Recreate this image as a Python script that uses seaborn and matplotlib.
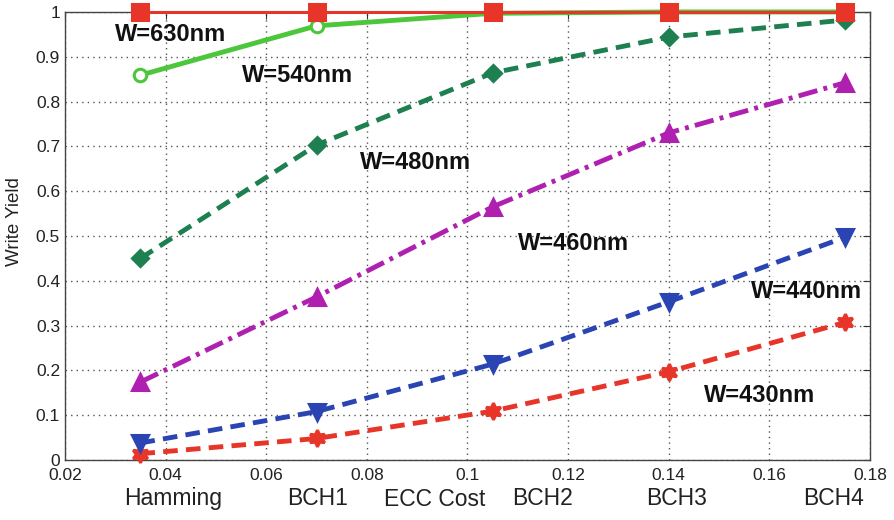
import matplotlib
matplotlib.use("Agg")
import matplotlib.pyplot as plt
import seaborn as sns
import numpy as np

# ---- data ----
ecc_cost = [0.035, 0.07, 0.105, 0.14, 0.175]
y_630 = [1.0, 1.0, 1.0, 1.0, 1.0]
y_540 = [0.859, 0.969, 0.997, 1.0, 1.0]
y_480 = [0.45, 0.703, 0.864, 0.944, 0.982]
y_460 = [0.174, 0.364, 0.565, 0.73, 0.842]
y_440 = [0.038, 0.108, 0.214, 0.353, 0.497]
y_430 = [0.014, 0.048, 0.109, 0.197, 0.307]
series_labels = ["W=630nm", "W=540nm", "W=480nm", "W=460nm", "W=440nm", "W=430nm"]
x_ticks = [0.02, 0.04, 0.06, 0.08, 0.1, 0.12, 0.14, 0.16, 0.18]
x_tick_labels = ["0.02", "0.04", "0.06", "0.08", "0.1", "0.12", "0.14", "0.16", "0.18"]
y_ticks = [0, 0.1, 0.2, 0.3, 0.4, 0.5, 0.6, 0.7, 0.8, 0.9, 1.0]
y_tick_labels = ["0", "0.1", "0.2", "0.3", "0.4", "0.5", "0.6", "0.7", "0.8", "0.9", "1"]
codes = ["Hamming", "BCH1", "BCH2", "BCH3", "BCH4"]
x_title = "ECC Cost"
y_title = "Write Yield"

sns.set_style("white")
plt.rcParams['font.family'] = ['Liberation Sans', 'DejaVu Sans']

fig = plt.figure(figsize=(8.95, 5.2), dpi=100)
ax = fig.add_axes([0.0726, 0.1154, 0.8994, 0.8616])

red = "#e8352a"
styles = [
    (y_630, red, "-", "s", red, 11, 2.2),
    (y_540, "#4cc63a", "-", "o", "white", 9, 3.5),
    (y_480, "#1e8050", (0, (3, 1.7)), "D", "#1e8050", 8, 3.5),
    (y_460, "#b020b0", (0, (4, 1.3, 0.8, 1.3)), "^", "#b020b0", 11, 3.5),
    (y_440, "#2a44b4", (0, (3, 1.7)), "v", "#2a44b4", 11, 3.5),
    (y_430, red, (0, (3, 1.7)), (6, 1, 0), red, 12, 3.5),
]
# draw bottom-up so the top series overlay
for (yv, col, ls, mk, mfc, ms, lw) in reversed(styles):
    sns.lineplot(x=ecc_cost, y=yv, ax=ax, color=col, linestyle=ls, linewidth=lw,
                 marker=mk, markersize=ms, markerfacecolor=mfc,
                 markeredgecolor=col, markeredgewidth=2.2, clip_on=False, zorder=3)

ax.set_xlim(0.02, 0.18)
ax.set_ylim(0, 1)
ax.set_xticks(x_ticks)
ax.set_xticklabels(x_tick_labels)
ax.set_yticks(y_ticks)
ax.set_yticklabels(y_tick_labels)
ax.tick_params(direction="in", length=5, top=True, right=True, labelsize=12.5,
               color="#333333", labelcolor="#222222")
ax.tick_params(axis="x", pad=6)
ax.grid(True, linestyle=(0, (1, 3)), color="#555555", linewidth=1.0)
for s in ax.spines.values():
    s.set_color("#444444")
    s.set_linewidth(1.0)

ax.set_ylabel(y_title, fontsize=13.5, color="#222222")
ax.yaxis.set_label_coords(-0.052, 0.533)
ax.set_xlabel("")

# annotations of series
label_pos = [(0.0409, 0.949), (0.0663, 0.859), (0.0896, 0.665), (0.1210, 0.484),
             (0.1673, 0.375), (0.1581, 0.143)]
for lab, (lx, ly) in zip(series_labels, label_pos):
    ax.text(lx, ly, lab, fontsize=17, fontweight="bold", color="#111111",
            ha="center", va="center")

# category labels below axis
cat_x = [0.0415, 0.0703, 0.1150, 0.1416, 0.1728]
for c, cx in zip(codes, cat_x):
    ax.text(cx, -0.085, c, fontsize=16.5, color="#222222", ha="center", va="center")
ax.text(0.0935, -0.088, x_title, fontsize=16.5, color="#222222", ha="center", va="center")

fig.savefig("out.png", dpi=100)
